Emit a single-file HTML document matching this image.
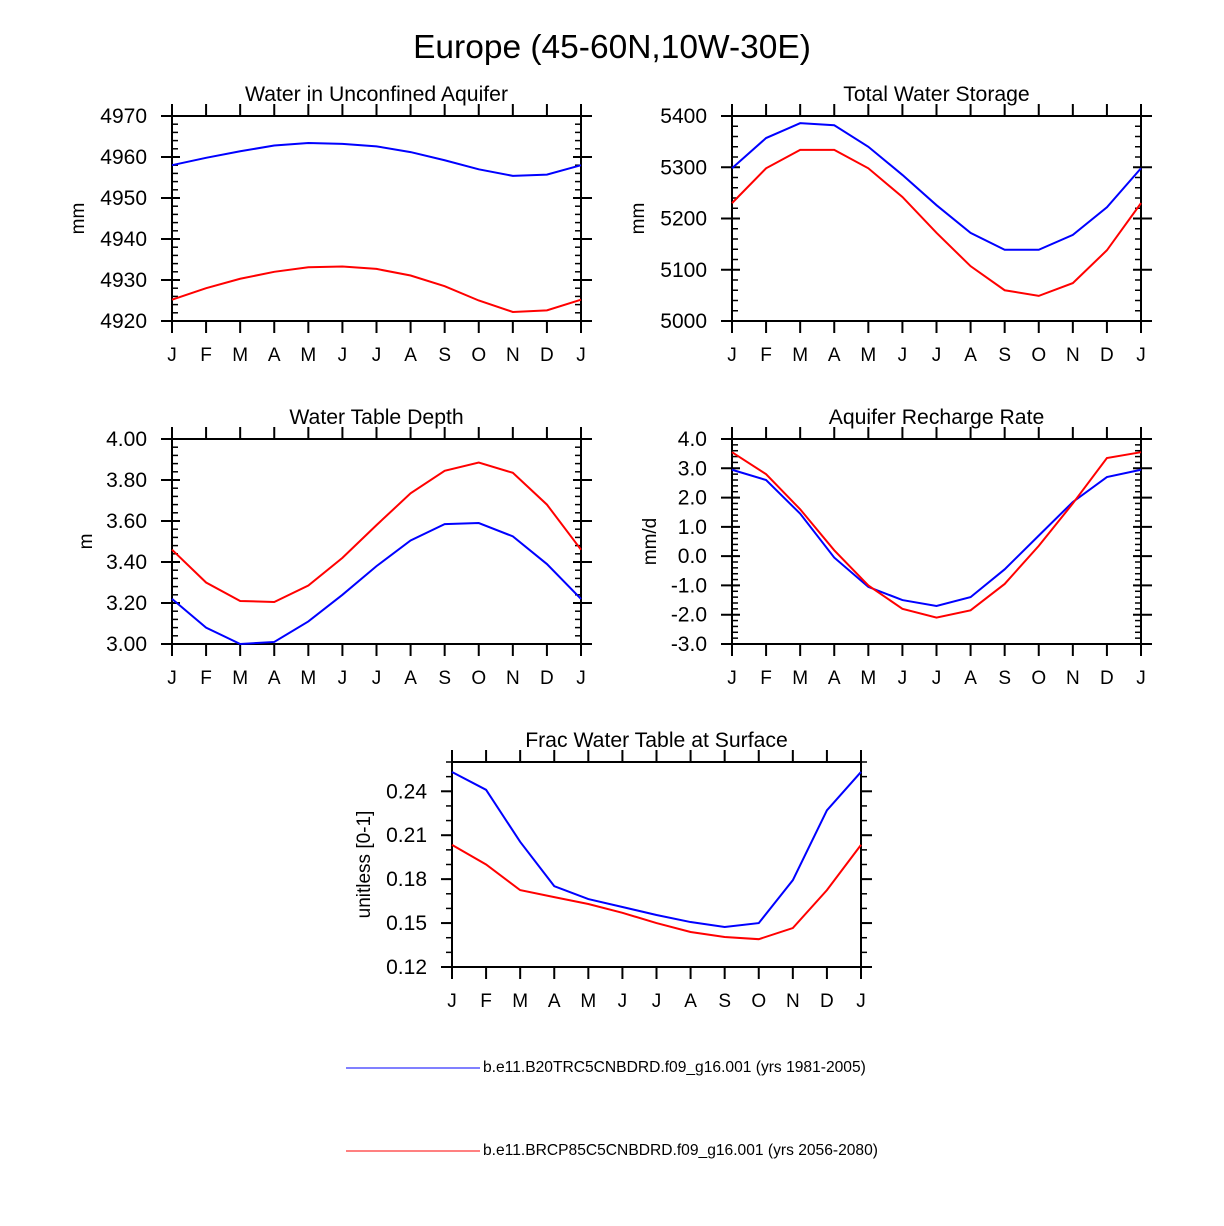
<!DOCTYPE html>
<html><head><meta charset="utf-8"><style>
body{margin:0;background:#fff;}
svg{display:block;font-family:"Liberation Sans",Arial,sans-serif;}
</style></head><body>
<svg id="c" width="1224" height="1226" xmlns="http://www.w3.org/2000/svg">
<text x="612" y="58" font-size="33.5" text-anchor="middle">Europe (45-60N,10W-30E)</text>
<g>
<line x1="346" y1="1068" x2="480" y2="1068" stroke="#00f" stroke-width="1"/>
<text x="483" y="1072" font-size="15.6">b.e11.B20TRC5CNBDRD.f09_g16.001 (yrs 1981-2005)</text>
<line x1="346" y1="1151" x2="480" y2="1151" stroke="#f00" stroke-width="1"/>
<text x="483" y="1155" font-size="15.6">b.e11.BRCP85C5CNBDRD.f09_g16.001 (yrs 2056-2080)</text>
</g>
</svg>
<script>
const months=["J","F","M","A","M","J","J","A","S","O","N","D","J"];
const p1Blue=[4958,4959.8,4961.4,4962.8,4963.4,4963.2,4962.6,4961.2,4959.2,4957,4955.4,4955.7,4958];
const p1Red=[4925.2,4928,4930.3,4932,4933.1,4933.3,4932.7,4931.1,4928.5,4925,4922.2,4922.6,4925.2];
const p1Ticks=["4920","4930","4940","4950","4960","4970"];
const p2Blue=[5298,5357,5386,5382,5340,5285,5226,5172,5139,5139,5168,5222,5298];
const p2Red=[5230,5298,5334,5334,5298,5242,5172,5107,5060,5049,5074,5138,5230];
const p2Ticks=["5000","5100","5200","5300","5400"];
const p3Blue=[3.22,3.08,3.00,3.01,3.11,3.24,3.38,3.505,3.585,3.59,3.525,3.39,3.22];
const p3Red=[3.46,3.30,3.21,3.205,3.285,3.42,3.58,3.735,3.845,3.885,3.835,3.68,3.46];
const p3Ticks=["3.00","3.20","3.40","3.60","3.80","4.00"];
const p4Blue=[2.95,2.6,1.45,-0.05,-1.05,-1.5,-1.7,-1.4,-0.45,0.7,1.85,2.7,2.95];
const p4Red=[3.55,2.8,1.6,0.2,-1.0,-1.8,-2.1,-1.85,-0.95,0.35,1.8,3.35,3.55];
const p4Ticks=["-3.0","-2.0","-1.0","0.0","1.0","2.0","3.0","4.0"];
const p5Blue=[0.2532,0.241,0.2055,0.1752,0.1664,0.161,0.1555,0.1507,0.1473,0.150,0.1793,0.227,0.2532];
const p5Red=[0.2034,0.19,0.1725,0.1677,0.163,0.157,0.150,0.1439,0.1405,0.139,0.1466,0.1725,0.2034];
const p5Ticks=["0.12","0.15","0.18","0.21","0.24"];

const svg=document.getElementById('c');
const NS="http://www.w3.org/2000/svg";
function mk(t,a,parent){const e=document.createElementNS(NS,t);for(const k in a)e.setAttribute(k,a[k]);(parent||svg).appendChild(e);return e;}

function panel(id,x0,y0,title,ylab,ymin,ymax,ticks,minorStep,blue,red,outMinor){
  const W=409,H=205;
  const g=mk('g',{});
  
  
  const X=i=>x0+i*W/12;
  const Y=v=>y0+H-(v-ymin)/(ymax-ymin)*H;
  const box=mk('rect',{x:x0,y:y0,width:W,height:H,fill:'none',stroke:'#000','stroke-width':2},g);
  
  
  months.forEach((m,i)=>{
    mk('line',{x1:X(i),x2:X(i),y1:y0+H,y2:y0+H+12,stroke:'#000','stroke-width':2},g);
    mk('line',{x1:X(i),x2:X(i),y1:y0,y2:y0-12,stroke:'#000','stroke-width':2},g);
    const t=mk('text',{x:X(i),y:y0+H+40,'font-size':19,'text-anchor':'middle'},g);
    t.textContent=m;
    
    
  });
  for(let v=ymin;v<=ymax+1e-9;v+=minorStep){
    const y=Y(v);
    if(outMinor){
      mk('line',{x1:x0,x2:x0-6,y1:y,y2:y,stroke:'#000','stroke-width':1.5},g);
      mk('line',{x1:x0+W,x2:x0+W+6,y1:y,y2:y,stroke:'#000','stroke-width':1.5},g);
    }else{
      mk('line',{x1:x0,x2:x0+6,y1:y,y2:y,stroke:'#000','stroke-width':1.5},g);
      mk('line',{x1:x0+W,x2:x0+W-6,y1:y,y2:y,stroke:'#000','stroke-width':1.5},g);
    }
  }
  ticks.forEach(s=>{
    const y=Y(parseFloat(s));
    mk('line',{x1:x0-11,x2:x0+(outMinor?0:8),y1:y,y2:y,stroke:'#000','stroke-width':2},g);
    mk('line',{x1:x0+W+11,x2:x0+W-(outMinor?0:8),y1:y,y2:y,stroke:'#000','stroke-width':2},g);
    const t=mk('text',{x:x0-25,y:y+7,'font-size':21,'text-anchor':'end'},g);
    t.textContent=s;
    
    
  });
  const tt=mk('text',{x:x0+W/2,y:y0-15,'font-size':21.2,'text-anchor':'middle'},g);
  tt.textContent=title;
  
  
  const yl=mk('text',{x:0,y:0,'font-size':19,'text-anchor':'middle',transform:`translate(${ylab[1]},${y0+H/2}) rotate(-90)`},g);
  yl.textContent=ylab[0];
  
  
  [[blue,'#00f','series-historical'],[red,'#f00','series-future']].forEach(([d,c,n])=>{
    const p=mk('polyline',{points:d.map((v,i)=>X(i)+','+Y(v)).join(' '),fill:'none',stroke:c,'stroke-width':2},g);
    
    
  });
}
panel('panel-water-unconfined-aquifer',172,116,'Water in Unconfined Aquifer',['mm',84],4920,4970,p1Ticks,2,p1Blue,p1Red,false);
panel('panel-total-water-storage',732,116,'Total Water Storage',['mm',644],5000,5400,p2Ticks,20,p2Blue,p2Red,false);
panel('panel-water-table-depth',172,439,'Water Table Depth',['m',92],3.0,4.0,p3Ticks,0.04,p3Blue,p3Red,false);
panel('panel-aquifer-recharge-rate',732,439,'Aquifer Recharge Rate',['mm/d',656],-3,4,p4Ticks,0.2,p4Blue,p4Red,false);
panel('panel-frac-water-table-surface',452,762,'Frac Water Table at Surface',['unitless [0-1]',370],0.12,0.26,p5Ticks,0.01,p5Blue,p5Red,true);
</script>
</body></html>
